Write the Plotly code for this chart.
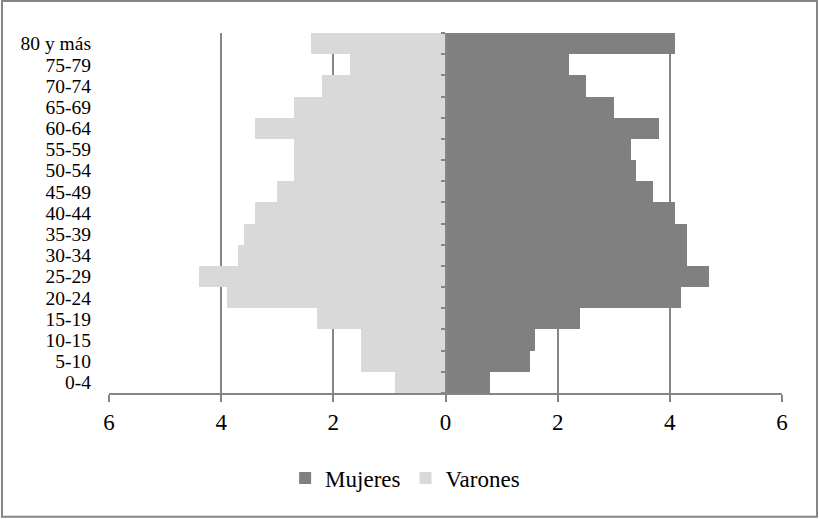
import plotly.graph_objects as go

categorias = ["0-4", "5-10", "10-15", "15-19", "20-24", "25-29", "30-34", "35-39",
              "40-44", "45-49", "50-54", "55-59", "60-64", "65-69", "70-74", "75-79", "80 y más"]
mujeres = [0.8, 1.5, 1.6, 2.4, 4.2, 4.7, 4.3, 4.3, 4.1, 3.7, 3.4, 3.3, 3.8, 3.0, 2.5, 2.2, 4.1]
varones = [0.9, 1.5, 1.5, 2.3, 3.9, 4.4, 3.7, 3.6, 3.4, 3.0, 2.7, 2.7, 3.4, 2.7, 2.2, 1.7, 2.4]
tick_vals = [-6, -4, -2, 0, 2, 4, 6]
tick_text = ["6", "4", "2", "0", "2", "4", "6"]

FONT = "Liberation Serif, Times New Roman, serif"
GRAY = "#868686"

fig = go.Figure()
fig.add_trace(go.Bar(
    y=categorias, x=mujeres, name="Mujeres", orientation="h",
    marker=dict(color="#808080", line=dict(width=0)), yaxis="y2",
))
fig.add_trace(go.Bar(
    y=categorias, x=[-v for v in varones], name="Varones", orientation="h",
    marker=dict(color="#d9d9d9", line=dict(width=0)), yaxis="y",
))

fig.update_layout(
    width=819, height=519,
    margin=dict(l=109, r=37, t=33, b=126),
    paper_bgcolor="white", plot_bgcolor="white",
    barmode="overlay", bargap=0,
    font=dict(family=FONT, color="black"),
    xaxis=dict(
        range=[-6, 6], tickvals=tick_vals, ticktext=tick_text,
        showgrid=True, gridcolor=GRAY, gridwidth=2,
        zeroline=False,
        showline=True, linecolor=GRAY, linewidth=2,
        ticks="outside", ticklen=7, tickwidth=2, tickcolor=GRAY,
        tickfont=dict(size=23, family=FONT),
        fixedrange=True,
    ),
    yaxis=dict(
        type="category", categoryorder="array", categoryarray=categorias,
        range=[-0.5, len(categorias) - 0.5],
        tickmode="linear", tick0=0, dtick=1,
        showgrid=False, zeroline=False, showline=False, ticks="",
        tickfont=dict(size=19.5, family=FONT),
        ticklabelstandoff=17,
    ),
    yaxis2=dict(
        type="category", categoryorder="array", categoryarray=categorias,
        range=[-0.5, len(categorias) - 0.5],
        overlaying="y", anchor="free", position=0.5, side="left",
        showgrid=False, zeroline=False,
        showline=True, linecolor=GRAY, linewidth=2,
        ticks="outside", tickson="boundaries", ticklen=4, tickwidth=1.5, tickcolor=GRAY,
        showticklabels=False,
    ),
    legend=dict(
        orientation="h", x=0.44, xanchor="center", y=-0.236, yanchor="middle",
        font=dict(size=23, family=FONT), traceorder="normal",
        itemwidth=30,
    ),
    showlegend=True,
    shapes=[dict(
        type="rect", xref="paper", yref="paper",
        x0=-0.159, x1=1.052, y0=-0.344, y1=1.089,
        line=dict(color=GRAY, width=2), fillcolor="rgba(0,0,0,0)", layer="below",
    )],
)

fig.write_html("out.html", config={"displayModeBar": False},
               post_script="document.body.style.margin='0';document.body.style.padding='0';")
